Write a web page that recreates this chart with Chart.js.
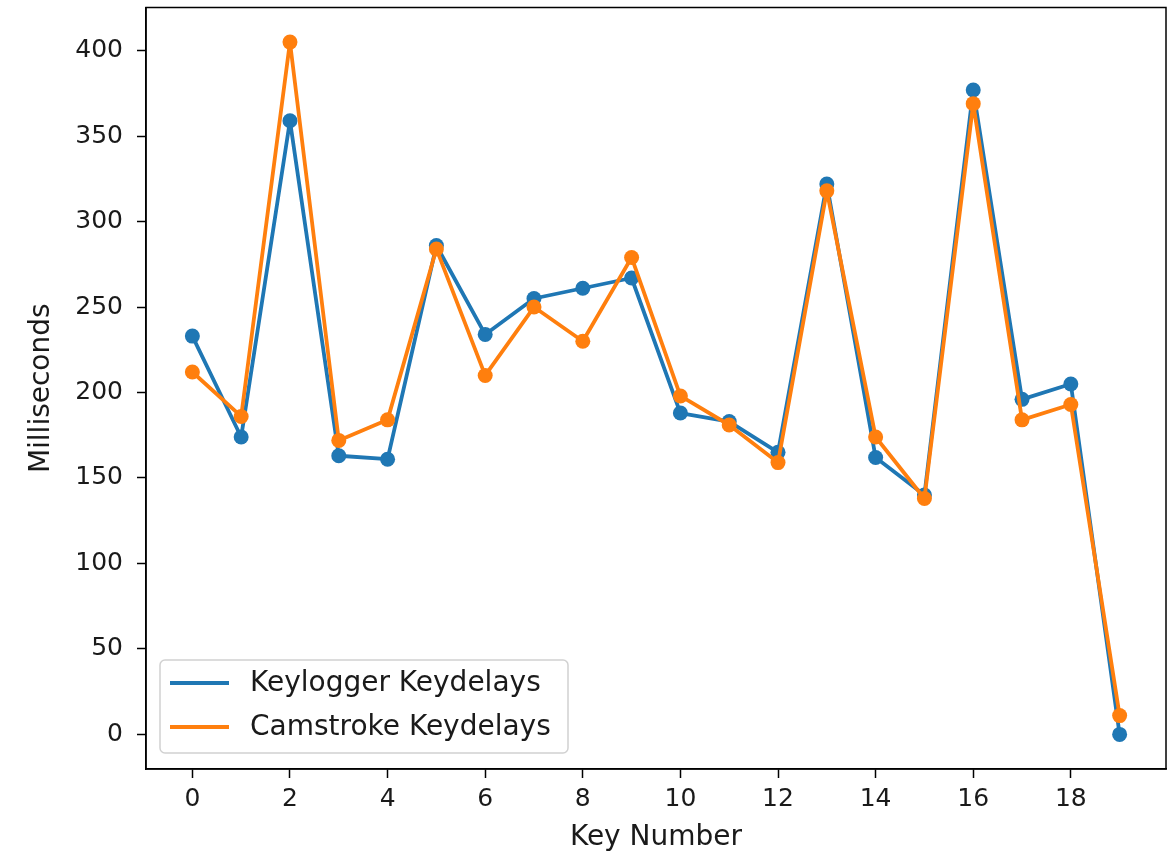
<!DOCTYPE html>
<html>
<head>
<meta charset="utf-8">
<script src="https://cdn.jsdelivr.net/npm/chart.js@4/dist/chart.umd.min.js"></script>
<style>
  html, body { margin: 0; padding: 0; background: #fff; }
  #wrap { width: 1174px; height: 855px; }
</style>
</head>
<body>
<div id="wrap"><canvas id="myChart" width="1174" height="855"></canvas></div>
<script>
// data
var keyNumbers = [0, 1, 2, 3, 4, 5, 6, 7, 8, 9, 10, 11, 12, 13, 14, 15, 16, 17, 18, 19];
var keyloggerDelays = [233, 174, 359, 163, 161, 286, 234, 255, 261, 267, 188, 183, 165, 322, 162, 140, 377, 196, 205, 0];
var camstrokeDelays = [212, 186, 405, 172, 184, 284, 210, 250, 230, 279, 198, 181, 159, 318, 174, 138, 369, 184, 193, 11];
var xTicks = [0, 2, 4, 6, 8, 10, 12, 14, 16, 18];
var yTicks = [0, 50, 100, 150, 200, 250, 300, 350, 400];

var blue = '#1f77b4';
var orange = '#ff7f0e';
var fontFamily = "'DejaVu Sans', sans-serif";

// matplotlib style 5% margins
var allY = keyloggerDelays.concat(camstrokeDelays);
var yLo = Math.min.apply(null, allY), yHi = Math.max.apply(null, allY);
var xLo = keyNumbers[0], xHi = keyNumbers[keyNumbers.length - 1];

function pts(vals) {
    return vals.map(function (v, i) { return { x: keyNumbers[i], y: v }; });
}

function noPad(s) {
    s.paddingTop = 0; s.paddingBottom = 0; s.paddingLeft = 0; s.paddingRight = 0;
}

// top + right spines
var framePlugin = {
    id: 'frame',
    afterDraw: function (chart) {
        var a = chart.chartArea, c = chart.ctx;
        c.save();
        c.strokeStyle = '#000';
        c.lineWidth = 1.5;
        c.strokeRect(a.left, a.top, a.right - a.left, a.bottom - a.top);
        c.restore();
    }
};

// legend box inside the plot, lower left
var legendPlugin = {
    id: 'innerLegend',
    afterDraw: function (chart) {
        var a = chart.chartArea, c = chart.ctx;
        var x0 = a.left + 14, y1 = a.bottom - 16, w = 408, h = 93;
        var y0 = y1 - h;
        c.save();
        c.beginPath();
        c.roundRect(x0, y0, w, h, 5);
        c.fillStyle = 'rgba(255,255,255,0.8)';
        c.fill();
        c.strokeStyle = 'rgba(204,204,204,0.9)';
        c.lineWidth = 1.5;
        c.stroke();
        c.font = '28px ' + fontFamily;
        c.textBaseline = 'middle';
        chart.data.datasets.forEach(function (ds, i) {
            var ry = y0 + 23 + i * 44;
            c.strokeStyle = ds.borderColor;
            c.lineWidth = 3.8;
            c.beginPath();
            c.moveTo(x0 + 10, ry);
            c.lineTo(x0 + 69, ry);
            c.stroke();
            c.fillStyle = '#1a1a1a';
            c.fillText(ds.label, x0 + 90, ry + 1);
        });
        c.restore();
    }
};

var ctx = document.getElementById('myChart').getContext('2d');

var dataFirst = {
    label: 'Keylogger Keydelays',
    data: pts(keyloggerDelays),
    borderColor: blue,
    backgroundColor: blue,
    borderWidth: 3.8,
    borderJoinStyle: 'round',
    pointRadius: 7.5,
    pointBorderWidth: 0,
    pointBackgroundColor: blue,
    tension: 0,
    order: 2
};

var dataSecond = {
    label: 'Camstroke Keydelays',
    data: pts(camstrokeDelays),
    borderColor: orange,
    backgroundColor: orange,
    borderWidth: 3.8,
    borderJoinStyle: 'round',
    pointRadius: 7.5,
    pointBorderWidth: 0,
    pointBackgroundColor: orange,
    tension: 0,
    order: 1
};

var myChart = new Chart(ctx, {
    type: 'line',
    data: { datasets: [dataFirst, dataSecond] },
    options: {
        responsive: false,
        animation: false,
        events: [],
        layout: { padding: { top: 7, right: 8, left: 0, bottom: 0 } },
        plugins: {
            legend: { display: false },
            tooltip: { enabled: false }
        },
        scales: {
            x: {
                type: 'linear',
                min: xLo - 0.05 * (xHi - xLo),
                max: xHi + 0.05 * (xHi - xLo),
                afterBuildTicks: function (s) { s.ticks = xTicks.map(function (v) { return { value: v }; }); },
                afterFit: function (s) { s.height = 86; noPad(s); },
                grid: { display: true, drawOnChartArea: false, drawTicks: true, tickLength: 9, tickColor: '#000', tickWidth: 1.5 },
                border: { display: true, color: '#000', width: 1.5 },
                ticks: { color: '#1a1a1a', font: { family: fontFamily, size: 25 }, padding: 6, maxRotation: 0, autoSkip: false },
                title: { display: true, text: 'Key Number', color: '#1a1a1a', font: { family: fontFamily, size: 28 }, padding: { top: 0, bottom: 0 } }
            },
            y: {
                type: 'linear',
                min: yLo - 0.05 * (yHi - yLo),
                max: yHi + 0.05 * (yHi - yLo),
                afterBuildTicks: function (s) { s.ticks = yTicks.map(function (v) { return { value: v }; }); },
                afterFit: function (s) { s.width = 146; noPad(s); },
                grid: { display: true, drawOnChartArea: false, drawTicks: true, tickLength: 9, tickColor: '#000', tickWidth: 1.5 },
                border: { display: true, color: '#000', width: 1.5 },
                ticks: { color: '#1a1a1a', font: { family: fontFamily, size: 25 }, padding: 14 },
                title: { display: true, text: 'Milliseconds', color: '#1a1a1a', font: { family: fontFamily, size: 28 }, padding: { top: 25, bottom: 0 } }
            }
        }
    },
    plugins: [framePlugin, legendPlugin]
});
</script>
</body>
</html>
